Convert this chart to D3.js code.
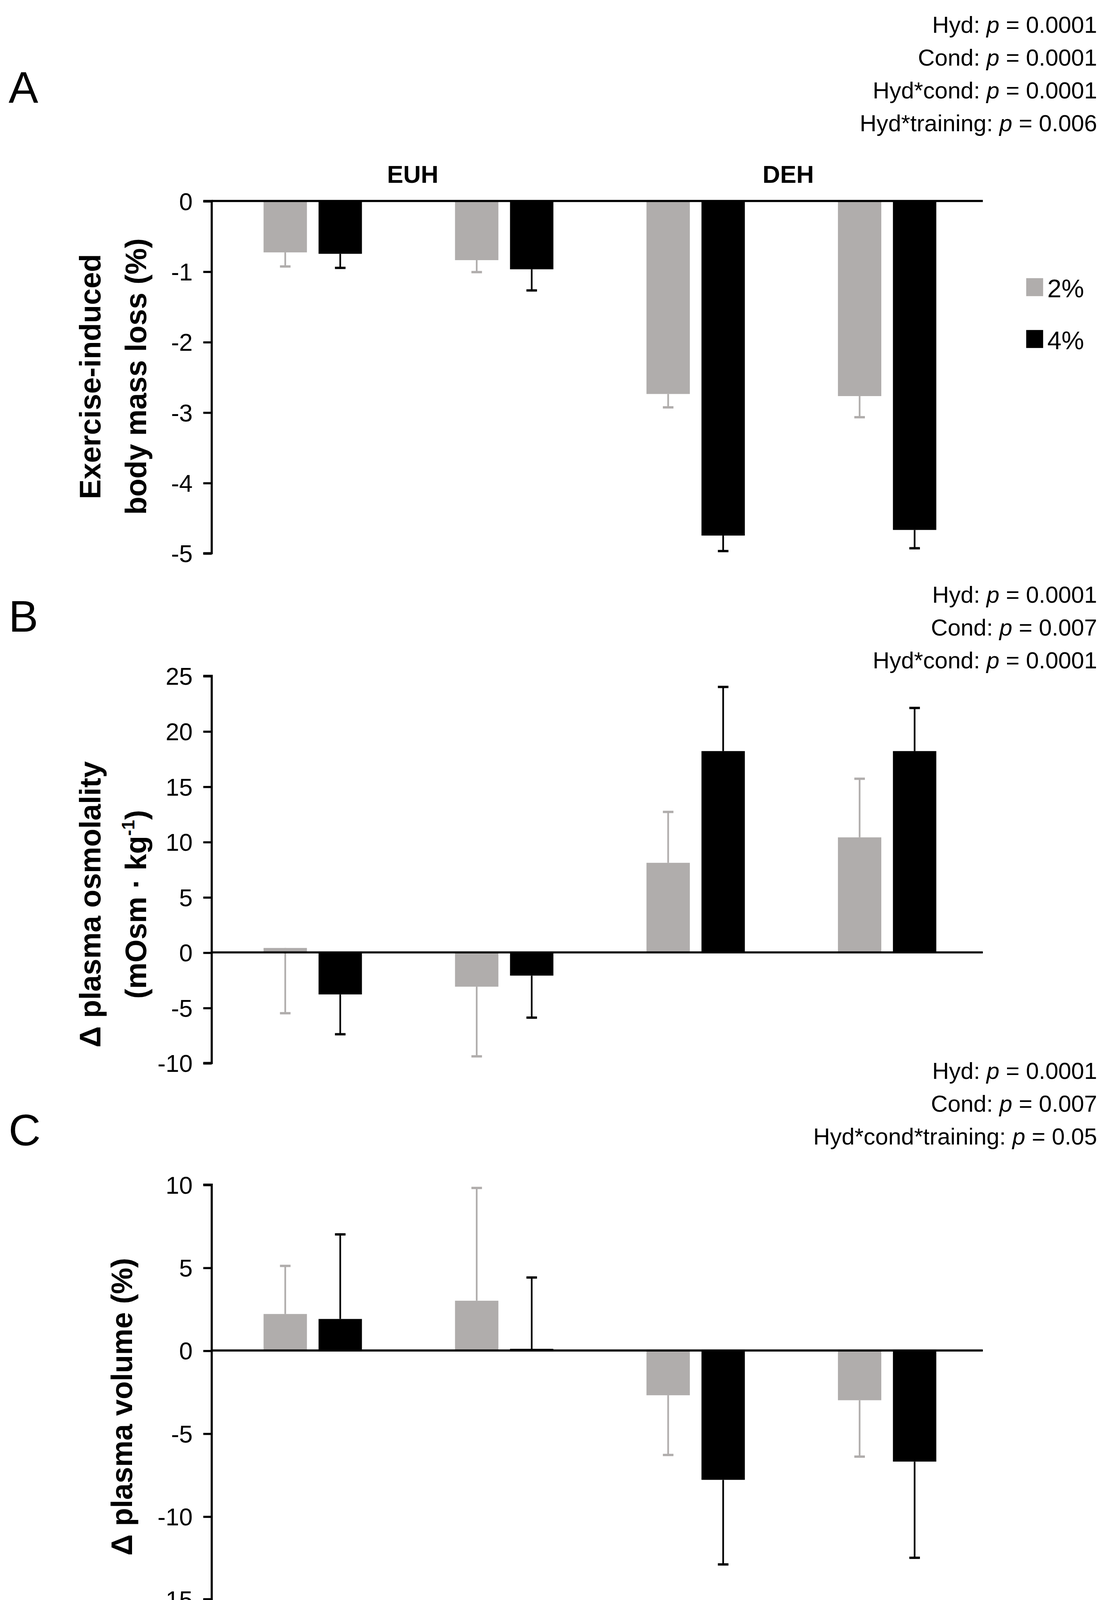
<!DOCTYPE html>
<html><head><meta charset="utf-8">
<script src="https://cdn.jsdelivr.net/npm/d3@7"></script>
<style>
html,body{margin:0;padding:0;background:#fff;overflow:hidden}
svg{display:block}
text{font-family:"Liberation Sans Narrow","Arial Narrow","Liberation Sans",Arial,sans-serif}
.ylab{font-family:"Liberation Sans",Arial,sans-serif;font-weight:bold}
</style></head>
<body><svg id="chart"></svg>
<script>
// categories
const times = ["Pre", "Post", "Pre", "Post"];
const groups = ["EUH", "DEH"];
const series = ["2%", "4%"];
const colors = ["#b0adac", "#000000"];

// Panel A: body mass loss (%)
const aMean2 = [-0.73, -0.84, -2.74, -2.77];
const aMean4 = [-0.75, -0.97, -4.75, -4.67];
const aErr2 = [-0.93, -1.01, -2.93, -3.07];   // error bar ends
const aErr4 = [-0.95, -1.27, -4.97, -4.93];

// Panel B: plasma osmolality change
const bMean2 = [0.4, -3.1, 8.1, 10.4];
const bMean4 = [-3.8, -2.1, 18.2, 18.2];
const bErr2 = [-5.5, -9.4, 12.7, 15.7];
const bErr4 = [-7.4, -5.9, 24.0, 22.1];

// Panel C: plasma volume change
const cMean2 = [2.2, 3.0, -2.7, -3.0];
const cMean4 = [1.9, 0.1, -7.8, -6.7];
const cErr2 = [5.1, 9.8, -6.3, -6.4];
const cErr4 = [7.0, 4.4, -12.9, -12.5];

const W = 1050, H = 1567;
const svg = d3.select("#chart")
    .attr("width", 2844).attr("height", 4243)
    .attr("viewBox", `0 0 ${W} ${H}`);

const x = d3.scaleBand().domain(d3.range(4)).range([205, 929]).paddingInner(0);
const barW = 41, gap = 11;

const panels = [
    {letter: "A", letterY: 97, domain: [-5, 0], range: [523, 190], ticks: d3.range(-5, 1, 1),
     m: [aMean2, aMean4], e: [aErr2, aErr4],
     stats: [["Hyd: ", "0.0001"], ["Cond: ", "0.0001"], ["Hyd*cond: ", "0.0001"], ["Hyd*training: ", "0.006"]],
     statY: 31, ylab: ["Exercise-induced", "body mass loss (%)"], ylabY: 356},
    {letter: "B", letterY: 597, domain: [-10, 25], range: [1005, 639], ticks: d3.range(-10, 26, 5),
     m: [bMean2, bMean4], e: [bErr2, bErr4],
     stats: [["Hyd: ", "0.0001"], ["Cond: ", "0.007"], ["Hyd*cond: ", "0.0001"]],
     statY: 570, ylab: ["\u0394 plasma osmolality", "(mOsm \u00b7 kg-1)"], ylabY: 855},
    {letter: "C", letterY: 1083, domain: [-15, 10], range: [1512, 1120], ticks: d3.range(-15, 11, 5),
     m: [cMean2, cMean4], e: [cErr2, cErr4],
     stats: [["Hyd: ", "0.0001"], ["Cond: ", "0.007"], ["Hyd*cond*training: ", "0.05"]],
     statY: 1020, ylab: ["\u0394 plasma volume (%)"], ylabY: 1330}
];

panels.forEach(p => {
    const y = d3.scaleLinear().domain(p.domain).range(p.range);
    const g = svg.append("g");

    g.append("text").attr("x", 8).attr("y", p.letterY)
        .style("font-size", "42px").style("font-family", "Liberation Sans, Arial").text(p.letter);

    p.stats.forEach((s, i) => {
        const t = g.append("text").attr("x", 1037).attr("y", p.statY + i * 31)
            .attr("text-anchor", "end").style("font-size", "22px");
        t.append("tspan").text(s[0]);
        t.append("tspan").style("font-style", "italic").text("p");
        t.append("tspan").text(" = " + s[1]);
    });

    // bars
    [0, 1].forEach(k => {
        const off = k === 0 ? -(barW + gap / 2) : gap / 2;
        const cx = i => x(i) + x.bandwidth() / 2 + off;
        g.selectAll(null).data(p.m[k]).join("rect")
            .attr("x", (d, i) => cx(i))
            .attr("width", barW)
            .attr("y", d => y(Math.max(0, d)))
            .attr("height", d => Math.abs(y(d) - y(0)))
            .attr("fill", colors[k]);
        const ec = k === 0 ? "#b0adac" : "#000";
        g.selectAll(null).data(p.e[k]).join("line")
            .attr("x1", (d, i) => cx(i) + barW / 2).attr("x2", (d, i) => cx(i) + barW / 2)
            .attr("y1", (d, i) => y(p.m[k][i])).attr("y2", d => y(d))
            .attr("stroke", ec).attr("stroke-width", 1.6);
        g.selectAll(null).data(p.e[k]).join("line")
            .attr("x1", (d, i) => cx(i) + barW / 2 - 5).attr("x2", (d, i) => cx(i) + barW / 2 + 5)
            .attr("y1", d => y(d)).attr("y2", d => y(d))
            .attr("stroke", ec).attr("stroke-width", 2.2);
    });

    // y axis
    const ax = g.append("g").attr("transform", "translate(200,0)")
        .call(d3.axisLeft(y).tickValues(p.ticks).tickSize(8).tickPadding(10).tickFormat(d => String(d)));
    ax.select(".domain").attr("stroke-width", 2).attr("d", `M-8,${p.range[0]}H0V${p.range[1]}H-8`);
    ax.selectAll(".tick line").attr("stroke-width", 2);
    ax.selectAll(".tick text").style("font-size", "23px").style("font-family", null).attr("dy", "0.35em");

    // zero line
    g.append("line").attr("x1", 200).attr("x2", 929).attr("y1", y(0)).attr("y2", y(0))
        .attr("stroke", "#000").attr("stroke-width", 2);

    // y label
    const n = p.ylab.length;
    p.ylab.forEach((l, i) => {
        const lx = n === 1 ? 115 : 85 + i * 43;
        const t = g.append("text").attr("class", "ylab")
            .attr("transform", `translate(${lx},${p.ylabY}) rotate(-90)`)
            .attr("dy", "0.35em")
            .attr("text-anchor", "middle").style("font-size", "28px");
        if (l.includes("kg-1")) {
            t.append("tspan").text("(mOsm \u00b7 kg");
            t.append("tspan").attr("dy", -11).style("font-size", "17px").text("-1");
            t.append("tspan").attr("dy", 11).text(")");
        } else t.text(l);
    });
});

// group headers
[["EUH", 390], ["DEH", 745]].forEach(([t, cx]) => {
    svg.append("text").attr("x", cx).attr("y", 173).attr("text-anchor", "middle")
        .style("font-size", "23px").style("font-weight", "bold").text(t);
});

// x labels
times.forEach((t, i) => {
    svg.append("text").attr("x", x(i) + x.bandwidth() / 2).attr("y", 1555)
        .attr("text-anchor", "middle").style("font-size", "24px").text(t);
});

// legend
series.forEach((s, i) => {
    svg.append("rect").attr("x", 970).attr("y", 263 + i * 49).attr("width", 16).attr("height", 17)
        .attr("fill", colors[i]);
    svg.append("text").attr("x", 990).attr("y", 281 + i * 49).style("font-size", "24px").text(s);
});
</script></body></html>
